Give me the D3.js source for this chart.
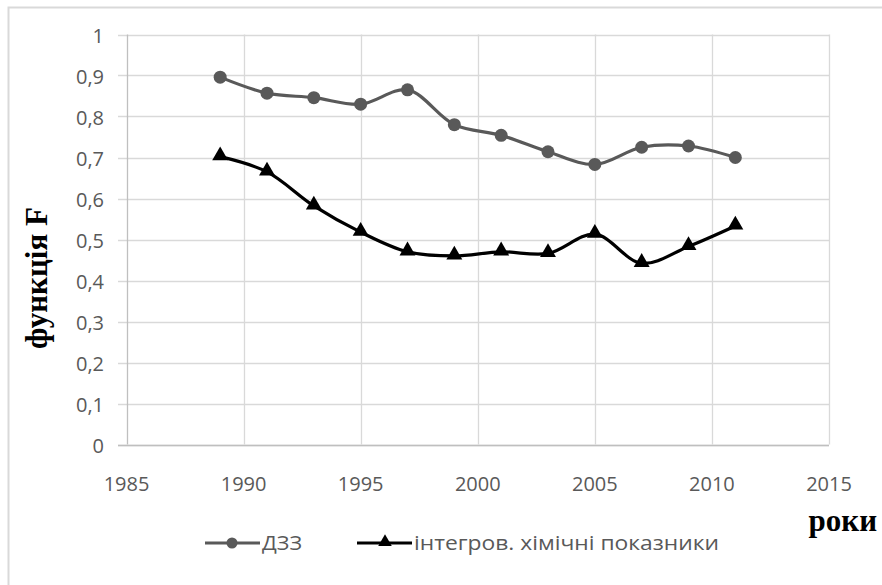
<!DOCTYPE html>
<meta charset="utf-8">
<style>
	body { margin: 0; background: #fff; }
	svg { display: block; }
	.tick-label { font-family: "Open Sans", sans-serif; fill: #595959; }
	.title { font-family: "Liberation Serif", "DejaVu Serif", serif; font-weight: bold; fill: #000; }
</style>
<body>
<svg id="chart" width="882" height="585"></svg>
</body>
<script src="https://cdnjs.cloudflare.com/ajax/libs/d3/7.8.5/d3.min.js"></script>
<script>
	// data
	var years = [1989, 1991, 1993, 1995, 1997, 1999, 2001, 2003, 2005, 2007, 2009, 2011];
	var dzz = [0.896, 0.857, 0.846, 0.830, 0.865, 0.780, 0.754, 0.714, 0.683, 0.725, 0.728, 0.700];
	var chem = [0.702, 0.665, 0.582, 0.518, 0.470, 0.460, 0.470, 0.466, 0.513, 0.442, 0.483, 0.533];
	var yTicks = [0, 0.1, 0.2, 0.3, 0.4, 0.5, 0.6, 0.7, 0.8, 0.9, 1];
	var xTicks = [1985, 1990, 1995, 2000, 2005, 2010, 2015];
	var seriesNames = ["ДЗЗ", "інтегров. хімічні показники"];

	var svg = d3.select("#chart");

	// outer chart frame (only left and top edges are inside the picture)
	svg.append("path")
		.attr("d", "M8.5,585 V7.5 H882")
		.attr("fill", "none").attr("stroke", "#d9d9d9").attr("stroke-width", 2);

	var x = d3.scaleLinear().domain([1985, 2015]).range([126.5, 829]);
	var y = d3.scaleLinear().domain([0, 1]).range([444.5, 34.5]);

	// horizontal grid + small ticks left of the axis
	svg.append("g").selectAll("line").data(yTicks).join("line")
		.attr("x1", 118).attr("x2", x(2015))
		.attr("y1", d => Math.round(y(d)) + 0.5).attr("y2", d => Math.round(y(d)) + 0.5)
		.attr("stroke", "#d9d9d9").attr("stroke-width", 1.3);

	// vertical grid
	svg.append("g").selectAll("line").data(xTicks).join("line")
		.attr("x1", d => Math.round(x(d)) + 0.5).attr("x2", d => Math.round(x(d)) + 0.5)
		.attr("y1", y(1)).attr("y2", y(0))
		.attr("stroke", d => d == 1985 ? "#bfbfbf" : "#d9d9d9").attr("stroke-width", 1.3);

	// axis line at 0
	svg.append("line")
		.attr("x1", 118).attr("x2", x(2015))
		.attr("y1", Math.round(y(0)) + 0.5).attr("y2", Math.round(y(0)) + 0.5)
		.attr("stroke", "#bfbfbf").attr("stroke-width", 1.3);

	// tick labels
	var fmt = d => String(d).replace(".", ",");
	svg.append("g").selectAll("text").data(yTicks).join("text")
		.attr("class", "tick-label")
		.attr("x", 104).attr("y", d => y(d) + 8.5)
		.attr("text-anchor", "end")
		.attr("font-size", 20)
		.text(fmt);

	svg.append("g").selectAll("text").data(xTicks).join("text")
		.attr("class", "tick-label")
		.attr("x", d => x(d)).attr("y", 491)
		.attr("text-anchor", "middle")
		.attr("font-size", 20)
		.text(d => d);

	// axis titles
	svg.append("text")
		.attr("class", "title")
		.attr("transform", "translate(47,278) rotate(-90)")
		.attr("text-anchor", "middle")
		.attr("font-size", 31)
		.text("функція F");

	svg.append("text")
		.attr("class", "title")
		.attr("x", 877).attr("y", 531)
		.attr("text-anchor", "end")
		.attr("font-size", 31)
		.text("роки");

	// lines
	var line = d3.line()
		.x(d => x(d[0]))
		.y(d => y(d[1]))
		.curve(d3.curveCatmullRom.alpha(0.5));

	var dzzPts = years.map((d, i) => [d, dzz[i]]);
	var chemPts = years.map((d, i) => [d, chem[i]]);

	svg.append("path")
		.datum(dzzPts)
		.attr("d", line)
		.attr("fill", "none").attr("stroke", "#595959").attr("stroke-width", 3.2);

	svg.append("path")
		.datum(chemPts)
		.attr("d", line)
		.attr("fill", "none").attr("stroke", "#000").attr("stroke-width", 3.2);

	svg.append("g").selectAll("circle").data(dzzPts).join("circle")
		.attr("cx", d => x(d[0])).attr("cy", d => y(d[1]))
		.attr("r", 6.5).attr("fill", "#595959");

	var tri = d3.symbol().type(d3.symbolTriangle).size(110);
	svg.append("g").selectAll("path").data(chemPts).join("path")
		.attr("transform", d => "translate(" + x(d[0]) + "," + (y(d[1]) - 1) + ")")
		.attr("d", tri).attr("fill", "#000");

	// legend
	var triSmall = d3.symbol().type(d3.symbolTriangle).size(80);
	var leg = svg.append("g");
	leg.append("line").attr("x1", 205).attr("x2", 260).attr("y1", 543).attr("y2", 543)
		.attr("stroke", "#595959").attr("stroke-width", 3);
	leg.append("circle").attr("cx", 232).attr("cy", 543).attr("r", 5.5).attr("fill", "#595959");
	leg.append("text").attr("class", "tick-label")
		.attr("x", 262).attr("y", 550).attr("font-size", 20)
		.attr("textLength", 40).attr("lengthAdjust", "spacingAndGlyphs")
		.text(seriesNames[0]);

	leg.append("line").attr("x1", 357).attr("x2", 412).attr("y1", 543).attr("y2", 543)
		.attr("stroke", "#000").attr("stroke-width", 3);
	leg.append("path").attr("transform", "translate(385,542)").attr("d", triSmall).attr("fill", "#000");
	leg.append("text").attr("class", "tick-label")
		.attr("x", 414).attr("y", 550).attr("font-size", 20)
		.attr("textLength", 305).attr("lengthAdjust", "spacingAndGlyphs")
		.text(seriesNames[1]);
</script>
